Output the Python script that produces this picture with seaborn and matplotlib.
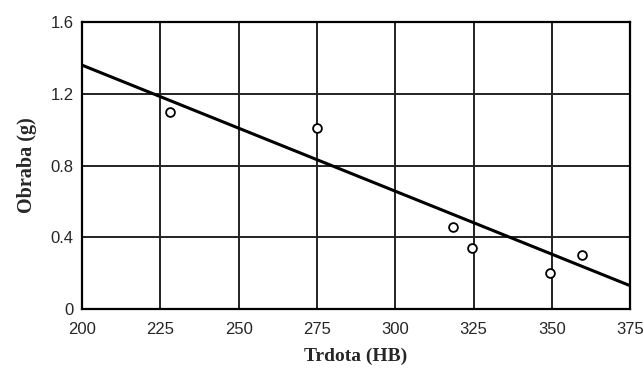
import numpy as np
import pandas as pd
import matplotlib
import matplotlib.pyplot as plt
import seaborn as sns

matplotlib.use('Agg')

# measured points
trdota = [228, 275, 318.5, 324.5, 349.5, 359.6]
obraba = [1.10, 1.01, 0.46, 0.34, 0.20, 0.30]

# regression line endpoints
line_x = [200, 375]
line_y = [1.36, 0.13]

x_ticks = [200, 225, 250, 275, 300, 325, 350, 375]
y_ticks = [0, 0.4, 0.8, 1.2, 1.6]
y_ticklabels = ['0', '0.4', '0.8', '1.2', '1.6']

sns.set_style('white')
plt.rcParams['font.family'] = ['Liberation Sans', 'DejaVu Sans']

df = pd.DataFrame({'Trdota': trdota, 'Obraba': obraba})
df_line = pd.DataFrame({'x': line_x, 'y': line_y})

fig = plt.figure(figsize=(6.43, 3.68), dpi=100)
ax = fig.add_axes([0.1275, 0.1603, 0.8525, 0.7797])

sns.lineplot(data=df_line, x='x', y='y', ax=ax, color='black', linewidth=2.2)
sns.scatterplot(data=df, x='Trdota', y='Obraba', ax=ax, s=40, marker='o',
                facecolor='white', edgecolor='black', linewidth=1.3, zorder=5)

ax.set_xlim(200, 375)
ax.set_ylim(0, 1.6)
ax.set_xticks(x_ticks)
ax.set_yticks(y_ticks)
ax.set_yticklabels(y_ticklabels)
ax.grid(True, color='#222222', linewidth=1.4)
ax.set_axisbelow(True)
for s in ax.spines.values():
    s.set_color('black')
    s.set_linewidth(1.6)
ax.tick_params(axis='both', length=0, labelsize=12)
ax.tick_params(axis='x', pad=9)
ax.tick_params(axis='y', pad=6)

ax.set_xlabel('Trdota (HB)', family='Liberation Serif', fontweight='bold',
              fontsize=14, labelpad=8)
ax.set_ylabel('Obraba (g)', family='Liberation Serif', fontweight='bold',
              fontsize=14.5, labelpad=10)

plt.savefig('out.png', dpi=100)
